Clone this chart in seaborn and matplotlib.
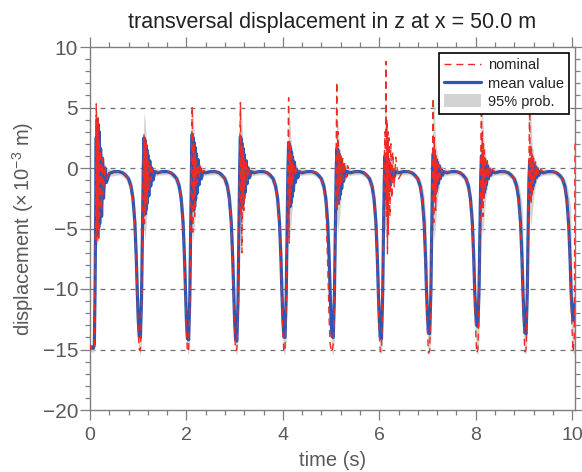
import numpy as np
import pandas as pd
import matplotlib
matplotlib.use("Agg")
import matplotlib.pyplot as plt
import seaborn as sns
from matplotlib.lines import Line2D
from matplotlib.patches import Patch
from matplotlib.ticker import MultipleLocator

# ---------------- data ----------------
cycle_starts = [0, 1, 2, 3, 4, 5, 6, 7, 8, 9]
cycle_offsets = [0.00, 0.02, 0.045, 0.07, 0.09, 0.105,
                 0.12, 0.13, 0.14, 0.15, 0.16, 0.17, 0.18, 0.19, 0.20,
                 0.22, 0.24, 0.26, 0.28, 0.31, 0.34,
                 0.40, 0.50, 0.60, 0.68, 0.74, 0.80, 0.85, 0.89, 0.93, 0.96, 0.98]
end_times = [10.00, 10.02, 10.045, 10.06]

mean_value = [
    -14.7, -14.9, -14.85, -14.9, -14.6, -10.0, -2.0, 2.5, -5.0, 4.0, -5.6, 3.6, -4.9, 3.0, -4.6, 1.6, -4.0, 0.8, -2.5, 0.0, -1.2, -0.45, -0.3, -0.3, -0.4, -0.6, -0.9, -1.5, -2.5, -4.5, -7.5, -10.2,
    -12.5, -13.9, -14.0, -10.5, -4.5, 0.0, 2.5, -3.0, 2.3, -3.8, 1.9, -3.4, 1.5, -2.9, 1.1, -2.3, 0.6, -1.5, 0.0, -1.0, -0.3, -0.4, -0.3, -0.3, -0.4, -0.6, -0.9, -1.5, -2.5, -4.5, -7.5, -10.2,
    -12.6, -14.1, -14.2, -10.8, -4.6, 0.2, 2.8, -2.8, 2.5, -3.5, 2.1, -3.2, 1.7, -2.6, 1.2, -2.1, 0.7, -1.4, 0.0, -0.9, -0.3, -0.4, -0.3, -0.3, -0.4, -0.6, -0.9, -1.5, -2.5, -4.5, -7.5, -10.2,
    -12.7, -14.2, -14.3, -11.0, -4.8, 0.0, 2.6, -2.6, 2.4, -3.3, 2.0, -3.0, 1.6, -2.5, 1.1, -2.0, 0.6, -1.3, 0.0, -0.8, -0.3, -0.4, -0.3, -0.3, -0.4, -0.6, -0.9, -1.5, -2.5, -4.5, -7.5, -10.2,
    -12.5, -13.9, -14.0, -10.5, -4.5, -0.2, 2.1, -2.5, 1.9, -3.2, 1.6, -2.9, 1.3, -2.4, 0.9, -1.9, 0.5, -1.2, -0.1, -0.8, -0.3, -0.4, -0.3, -0.3, -0.4, -0.6, -0.9, -1.5, -2.5, -4.5, -7.5, -10.2,
    -12.5, -13.9, -14.0, -10.5, -4.6, -0.5, 1.6, -2.3, 1.5, -2.9, 1.2, -2.6, 1.0, -2.2, 0.7, -1.7, 0.3, -1.1, -0.1, -0.7, -0.3, -0.4, -0.3, -0.3, -0.4, -0.6, -0.9, -1.5, -2.5, -4.5, -7.5, -10.2,
    -12.5, -14.0, -14.1, -10.6, -4.6, -0.8, 1.0, -2.0, 0.9, -2.5, 0.7, -2.2, 0.6, -1.9, 0.4, -1.5, 0.2, -1.0, -0.1, -0.7, -0.3, -0.4, -0.3, -0.3, -0.4, -0.6, -0.9, -1.5, -2.5, -4.5, -7.5, -10.2,
    -12.3, -13.6, -13.7, -10.3, -4.5, -0.6, 1.2, -1.8, 1.1, -2.2, 0.9, -2.0, 0.7, -1.7, 0.5, -1.3, 0.2, -0.9, -0.1, -0.6, -0.3, -0.4, -0.3, -0.3, -0.4, -0.6, -0.9, -1.5, -2.5, -4.5, -7.5, -10.2,
    -12.0, -13.0, -13.1, -10.0, -4.4, -0.7, 1.0, -1.9, 0.9, -2.4, 0.8, -2.1, 0.6, -1.8, 0.4, -1.4, 0.2, -0.9, -0.1, -0.6, -0.3, -0.4, -0.3, -0.3, -0.4, -0.6, -0.9, -1.5, -2.5, -4.5, -7.5, -10.2,
    -12.3, -13.6, -13.7, -10.3, -4.5, -0.9, 0.6, -1.6, 0.6, -2.0, 0.5, -1.8, 0.4, -1.5, 0.3, -1.2, 0.1, -0.8, -0.1, -0.6, -0.3, -0.4, -0.3, -0.3, -0.4, -0.6, -0.9, -1.5, -2.6, -4.8, -7.8, -10.4,
    -11.8, -12.6, -12.3, -11.2,
]

nominal = [
    -14.6, -15.0, -14.9, -15.0, -14.7, -9.5, -1.0, 5.3, -6.0, 3.5, -5.0, 4.2, -5.8, 2.4, -4.0, 1.5, -3.5, 0.8, -2.2, 0.2, -0.9, -0.3, -0.3, -0.3, -0.35, -0.6, -0.9, -1.5, -2.6, -4.8, -8.2, -11.0,
    -13.5, -15.0, -15.1, -11.5, -5.0, 0.5, 2.8, -4.6, 2.0, -3.6, 2.4, -2.8, 1.4, -3.0, 0.8, -1.8, 0.4, -1.0, -0.1, -0.5, -0.2, -0.3, -0.3, -0.3, -0.35, -0.6, -0.9, -1.5, -2.6, -4.8, -8.2, -11.0,
    -13.5, -15.2, -15.1, -11.5, -5.0, 1.0, 5.1, -5.3, 3.0, -2.5, 2.0, -4.0, 1.2, -1.5, 0.6, -1.2, 0.3, -0.8, 0.2, -0.6, -0.2, -0.3, -0.3, -0.3, -0.35, -0.6, -0.9, -1.5, -2.6, -4.8, -8.2, -11.0,
    -13.6, -15.1, -15.0, -11.5, -5.2, 0.8, 5.4, -4.0, 2.5, -7.0, 1.5, -2.5, 2.0, -3.5, 0.8, -1.5, 0.5, -1.0, 0.1, -0.6, -0.2, -0.3, -0.3, -0.3, -0.35, -0.6, -0.9, -1.5, -2.6, -4.8, -8.2, -11.0,
    -13.5, -15.2, -15.0, -11.0, -4.8, 1.0, 5.8, -6.2, 2.2, -3.0, 1.8, -2.0, 1.0, -1.5, 0.5, -0.9, 0.3, -0.7, -0.1, -0.5, -0.3, -0.3, -0.3, -0.3, -0.35, -0.5, -1.0, -1.6, -2.8, -8.0, -12.5, -14.5,
    -15.0, -15.2, -14.5, -11.0, -4.5, 1.5, 7.1, -3.5, 3.0, -2.0, 1.5, -3.0, 1.2, -1.5, 1.0, -1.2, 0.8, -1.0, 0.5, -0.8, 0.2, -0.3, -0.3, -0.3, -0.35, -0.6, -0.9, -1.5, -2.6, -4.8, -8.2, -11.0,
    -13.5, -15.2, -15.0, -11.0, -4.0, 1.0, 3.0, -2.0, 8.8, -4.0, 4.0, -7.1, 3.0, -5.5, 2.5, -4.0, 2.0, -2.5, 1.3, -1.6, 0.9, -0.9, -0.2, -0.3, -0.35, -0.6, -0.9, -1.5, -2.6, -4.8, -8.2, -11.0,
    -13.5, -15.3, -15.1, -11.0, -4.5, 1.0, 5.8, -4.5, 2.5, -2.8, 1.5, -3.5, 1.0, -2.0, 0.6, -1.2, 0.3, -0.8, 0.0, -0.5, -0.3, -0.3, -0.3, -0.3, -0.35, -0.6, -0.9, -1.5, -2.6, -4.8, -8.2, -11.0,
    -13.5, -15.3, -15.0, -11.0, -4.5, 1.0, 6.0, -3.0, 3.0, -4.0, 2.0, -2.5, 1.5, -2.0, 1.0, -1.3, 0.6, -0.9, 0.2, -0.6, -0.1, -0.3, -0.3, -0.3, -0.35, -0.6, -0.9, -1.5, -2.6, -4.8, -8.2, -11.0,
    -13.5, -15.2, -15.0, -11.0, -4.5, 1.0, 5.8, -2.0, 2.0, -3.0, 1.6, -2.4, 1.0, -1.5, 0.8, -1.0, 0.5, -0.8, 0.2, -0.5, -0.1, -0.3, -0.3, -0.3, -0.35, -0.6, -0.9, -1.5, -2.6, -5.0, -8.5, -11.3,
    -13.5, -15.2, -14.0, 2.3,
]

band_offsets = [0.00, 0.02, 0.045, 0.07, 0.09, 0.105, 0.12, 0.14, 0.17, 0.21,
                0.26, 0.32, 0.40, 0.62, 0.74, 0.82, 0.87, 0.91, 0.94, 0.97]
band_end_times = [10.00, 10.02, 10.045, 10.06]

band_upper = [
    -14.4, -14.6, -14.6, -14.6, -14.2, -6.0, 2.0, 4.8, 4.2, 2.0, 0.8, 0.2, -0.1, -0.1, -0.35, -0.7, -1.2, -2.2, -3.4, -5.8,
    -9.5, -12.6, -12.3, -6.5, -1.0, 2.5, 4.6, 4.0, 2.2, 1.0, 0.4, 0.0, -0.1, -0.1, -0.35, -0.7, -1.2, -2.2, -3.4, -5.8,
    -9.5, -12.6, -12.3, -6.5, -1.0, 2.5, 5.2, 4.6, 2.2, 1.0, 0.4, 0.0, -0.1, -0.1, -0.35, -0.7, -1.2, -2.2, -3.4, -5.8,
    -9.5, -12.6, -12.3, -6.5, -1.0, 2.5, 5.4, 4.8, 2.2, 1.0, 0.4, 0.0, -0.1, -0.1, -0.35, -0.7, -1.2, -2.2, -3.4, -5.8,
    -9.5, -12.6, -12.3, -6.5, -1.0, 2.5, 5.0, 4.4, 2.2, 1.0, 0.4, 0.0, -0.1, -0.1, -0.35, -0.7, -1.2, -2.2, -3.4, -5.8,
    -9.5, -12.6, -12.3, -6.5, -1.0, 2.5, 4.5, 3.9, 2.0, 1.0, 0.4, 0.0, -0.1, -0.1, -0.35, -0.7, -1.2, -2.2, -3.4, -5.8,
    -9.5, -12.6, -12.3, -6.5, -1.0, 2.5, 5.6, 5.0, 2.2, 1.0, 0.4, 0.0, -0.1, -0.1, -0.35, -0.7, -1.1, -1.8, -2.6, -4.3,
    -9.0, -12.3, -12.0, -6.5, -1.0, 2.5, 5.6, 5.0, 2.2, 1.0, 0.4, 0.0, -0.1, -0.1, -0.35, -0.7, -1.2, -2.2, -3.4, -5.8,
    -9.5, -12.0, -11.7, -6.5, -1.0, 2.5, 5.5, 4.9, 2.2, 1.0, 0.4, 0.0, -0.1, -0.1, -0.35, -0.7, -1.1, -1.7, -2.4, -3.4,
    -9.0, -12.3, -12.0, -6.5, -1.0, 2.5, 5.5, 4.9, 2.0, 1.0, 0.4, 0.0, -0.1, -0.1, -0.35, -0.7, -1.1, -1.7, -2.4, -3.3,
    -9.0, -11.5, -9.0, -3.2,
]

band_lower = [
    -15.1, -15.2, -15.2, -15.2, -15.0, -13.0, -5.0, -6.5, -6.0, -5.0, -3.5, -1.2, -0.7, -0.55, -0.9, -1.8, -3.2, -5.5, -8.0, -11.8,
    -14.3, -15.3, -15.4, -14.2, -9.0, -5.0, -5.0, -6.0, -4.5, -2.5, -1.2, -0.7, -0.6, -0.55, -0.9, -1.8, -3.2, -5.5, -8.0, -11.8,
    -14.3, -15.3, -15.4, -14.2, -9.0, -5.0, -5.0, -6.0, -4.5, -2.5, -1.2, -0.7, -0.6, -0.55, -0.9, -1.8, -3.2, -5.5, -8.0, -11.8,
    -14.3, -15.3, -15.4, -14.2, -9.0, -5.0, -5.2, -6.2, -4.5, -2.5, -1.2, -0.7, -0.6, -0.55, -0.9, -1.8, -3.2, -5.5, -8.0, -11.8,
    -14.3, -15.3, -15.4, -14.2, -9.0, -5.0, -4.8, -5.8, -4.5, -2.5, -1.2, -0.7, -0.6, -0.55, -0.9, -1.8, -3.2, -5.5, -8.0, -11.8,
    -14.3, -15.3, -15.4, -14.2, -9.0, -5.0, -4.5, -5.5, -4.3, -2.4, -1.2, -0.7, -0.6, -0.55, -0.9, -1.8, -3.2, -5.5, -8.0, -11.8,
    -14.3, -15.3, -15.4, -14.2, -9.0, -5.0, -5.0, -6.0, -4.5, -2.5, -1.2, -0.7, -0.6, -0.55, -0.9, -1.8, -3.2, -5.5, -8.0, -11.8,
    -14.3, -15.3, -15.4, -14.2, -9.0, -5.0, -5.0, -6.0, -4.5, -2.5, -1.2, -0.7, -0.6, -0.55, -0.9, -1.8, -3.2, -5.5, -8.0, -11.8,
    -14.3, -15.3, -15.4, -14.2, -9.0, -5.0, -4.7, -5.7, -4.3, -2.4, -1.2, -0.7, -0.6, -0.55, -0.9, -1.8, -3.2, -5.5, -8.0, -11.8,
    -14.3, -15.3, -15.4, -14.2, -9.0, -5.0, -3.8, -4.8, -3.8, -2.2, -1.1, -0.7, -0.6, -0.55, -0.9, -1.8, -3.2, -5.5, -8.0, -11.8,
    -14.3, -15.3, -15.4, -15.0,
]

y_ticks = [-20, -15, -10, -5, 0, 5, 10]
x_ticks = [0, 2, 4, 6, 8, 10]
grid_levels = [-15, -10, -5, 0, 5]

# ---------------- build tables ----------------
t = np.concatenate([s + np.array(cycle_offsets) for s in cycle_starts] + [np.array(end_times)])
tb = np.concatenate([s + np.array(band_offsets) for s in cycle_starts] + [np.array(band_end_times)])
df = pd.DataFrame({"time": t, "nominal": nominal, "mean": mean_value})

# ---------------- style ----------------
sns.set_theme(style="ticks")
plt.rcParams['font.family'] = ['Liberation Sans', 'DejaVu Sans']
plt.rcParams['mathtext.fontset'] = 'custom'
plt.rcParams['mathtext.rm'] = 'Liberation Sans'
plt.rcParams['mathtext.it'] = 'Liberation Sans:italic'
plt.rcParams['mathtext.bf'] = 'Liberation Sans:bold'

GRAY_TXT = '#595959'
SPINE = '#7f7f7f'
BLUE = '#2b56b2'
RED = '#ee2b25'
BAND = '#d3d3d3'

fig = plt.figure(figsize=(5.82, 4.72), dpi=100)
ax = fig.add_axes([90 / 582, 62 / 472, 485 / 582, 363 / 472])

for g in grid_levels:
    ax.axhline(g, color='#707070', lw=0.9, ls=(0, (4, 4)), zorder=0.5)

ax.fill_between(tb, band_lower, band_upper, color=BAND, lw=0, zorder=1)
sns.lineplot(data=df, x="time", y="mean", ax=ax, color=BLUE, lw=2.3,
             estimator=None, sort=False, zorder=2)
sns.lineplot(data=df, x="time", y="nominal", ax=ax, color=RED, lw=1.0,
             estimator=None, sort=False, zorder=3)
ax.lines[-1].set_dashes([5, 3.5])

ax.set_xlim(0, 10.06)
ax.set_ylim(-20, 10)
ax.set_xticks(x_ticks)
ax.set_yticks(y_ticks)
ax.xaxis.set_minor_locator(MultipleLocator(0.4))
ax.yaxis.set_minor_locator(MultipleLocator(1))
ax.tick_params(which='both', direction='out', top=True, right=True,
               color=SPINE, width=0.9, labelcolor=GRAY_TXT, labelsize=15)
ax.tick_params(axis='x', labelsize=14)
ax.tick_params(which='major', length=7)
ax.tick_params(which='minor', length=3.5)
ax.tick_params(axis='y', which='major', pad=1.5)
ax.tick_params(axis='x', which='major', pad=5)
for sp in ax.spines.values():
    sp.set_visible(True)
    sp.set_color(SPINE)
    sp.set_linewidth(1.0)

ax.set_xlabel("time (s)", fontsize=14.5, color=GRAY_TXT)
ax.set_ylabel(r"displacement ($\times\,10^{-3}$ m)", fontsize=14.5, color=GRAY_TXT)
ax.xaxis.set_label_coords(0.5, -0.112)
ax.yaxis.set_label_coords(-0.112, 0.5)
ax.set_title("transversal displacement in z at x = 50.0 m", fontsize=15.5,
             color='#222222', pad=14)

handles = [Line2D([], [], color=RED, lw=1.0, dashes=[5, 3.5]),
           Line2D([], [], color=BLUE, lw=2.3),
           Patch(facecolor=BAND, edgecolor='none')]
leg = ax.legend(handles, ["nominal", "mean value", "95% prob."], loc='upper right',
                fontsize=10.5, frameon=True, fancybox=False, framealpha=1,
                edgecolor='black', borderaxespad=0.4, handlelength=2.5,
                handletextpad=0.5, labelspacing=0.25, borderpad=0.35,
                handleheight=1.0)
leg.get_frame().set_linewidth(1.2)
for txt in leg.get_texts():
    txt.set_color('#222222')
leg.set_zorder(10)

fig.savefig("out.png", dpi=100)
